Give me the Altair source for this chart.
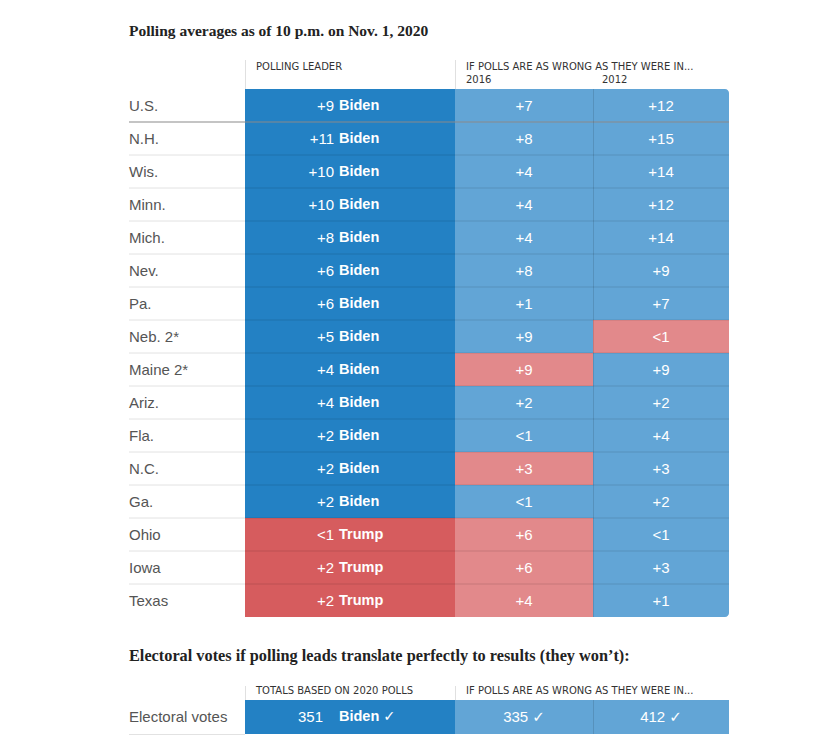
import altair as alt
import pandas as pd

# ---------------- data ----------------
STATES = ["U.S.", "N.H.", "Wis.", "Minn.", "Mich.", "Nev.", "Pa.", "Neb. 2*",
          "Maine 2*", "Ariz.", "Fla.", "N.C.", "Ga.", "Ohio", "Iowa", "Texas"]
LEAD_MARGIN = ["+9", "+11", "+10", "+10", "+8", "+6", "+6", "+5",
               "+4", "+4", "+2", "+2", "+2", "<1", "+2", "+2"]
LEADER = ["Biden"] * 13 + ["Trump"] * 3
MARGIN_2016 = ["+7", "+8", "+4", "+4", "+4", "+8", "+1", "+9",
               "+9", "+2", "<1", "+3", "<1", "+6", "+6", "+4"]
WINNER_2016 = ["Biden", "Biden", "Biden", "Biden", "Biden", "Biden", "Biden", "Biden",
               "Trump", "Biden", "Biden", "Trump", "Biden", "Trump", "Trump", "Trump"]
MARGIN_2012 = ["+12", "+15", "+14", "+12", "+14", "+9", "+7", "<1",
               "+9", "+2", "+4", "+3", "+2", "<1", "+3", "+1"]
WINNER_2012 = ["Biden", "Biden", "Biden", "Biden", "Biden", "Biden", "Biden", "Trump",
               "Biden", "Biden", "Biden", "Biden", "Biden", "Biden", "Biden", "Biden"]

EV_LABEL = "Electoral votes"
EV_LEAD = "351"
EV_LEADER = "Biden"
EV_2016 = "335"
EV_2012 = "412"

TITLE_1 = "Polling averages as of 10 p.m. on Nov. 1, 2020"
TITLE_2 = "Electoral votes if polling leads translate perfectly to results (they won\u2019t):"
HEAD_LEADER = "POLLING LEADER"
HEAD_WRONG = "IF POLLS ARE AS WRONG AS THEY WERE IN..."
HEAD_TOTALS = "TOTALS BASED ON 2020 POLLS"
YEARS = ["2016", "2012"]
CHECK = "\u2713"

# ---------------- layout / style ----------------
M = 8                      # page margin
W, H = 760, 730
COLS = {"leader": (245, 455), "y2016": (455, 593), "y2012": (593, 729)}
LABEL_X = (129, 245)
TABLE_Y = (89, 617)
EV_Y = (700, 734)
SHADE_DOMAIN = ["Biden-dark", "Trump-dark", "Biden-light", "Trump-light"]
SHADE_RANGE = ["#2381c4", "#d65c5e", "#62a5d6", "#e2898b"]
SANS = "Liberation Sans, DejaVu Sans, sans-serif"
SERIF = "Liberation Serif, DejaVu Serif, serif"
HEAD_FONT = "DejaVu Sans, sans-serif"


def px(v):
    return v - M


XS = alt.Scale(domain=[M, M + W], nice=False, zero=False)
COLOR = alt.Color("shade:N", scale=alt.Scale(domain=SHADE_DOMAIN, range=SHADE_RANGE), legend=None)


def y_state(**kw):
    return alt.Y("state:N", axis=None, title=None,
                 scale=alt.Scale(type="band", domain=STATES,
                                 range=[px(TABLE_Y[0]), px(TABLE_Y[1])],
                                 paddingInner=0, paddingOuter=0), **kw)


def y_ev(**kw):
    return alt.Y("state:N", axis=None, title=None,
                 scale=alt.Scale(type="band", domain=[EV_LABEL],
                                 range=[px(EV_Y[0]), px(EV_Y[1])],
                                 paddingInner=0, paddingOuter=0), **kw)


# ---------------- tables ----------------
rows = []
for i, s in enumerate(STATES):
    for col, text, who, tone in [("leader", LEAD_MARGIN[i], LEADER[i], "dark"),
                                 ("y2016", MARGIN_2016[i], WINNER_2016[i], "light"),
                                 ("y2012", MARGIN_2012[i], WINNER_2012[i], "light")]:
        x0, x1 = COLS[col]
        rows.append({"state": s, "col": col, "x0": x0, "x1": x1, "xc": (x0 + x1) / 2,
                     "text": text, "name": who, "shade": f"{who}-{tone}"})
cells = pd.DataFrame(rows)

ev_rows = []
for col, text, who, tone in [("leader", EV_LEAD, EV_LEADER, "dark"),
                             ("y2016", EV_2016 + " " + CHECK, "Biden", "light"),
                             ("y2012", EV_2012 + " " + CHECK, "Biden", "light")]:
    x0, x1 = COLS[col]
    ev_rows.append({"state": EV_LABEL, "col": col, "x0": x0, "x1": x1, "xc": (x0 + x1) / 2,
                    "text": text, "name": who, "shade": f"{who}-{tone}"})
ev = pd.DataFrame(ev_rows)

labels = pd.DataFrame({"state": STATES})
sep = pd.DataFrame({"state": STATES[1:-1], "x0": LABEL_X[0], "x1": LABEL_X[1]})
sep_cells = pd.DataFrame({"state": STATES[1:-1], "x0": COLS["leader"][0], "x1": COLS["y2012"][1]})
us_line = pd.DataFrame({"state": [STATES[0]], "x0": LABEL_X[0], "x1": COLS["y2012"][1]})

corner_tr = (cells["state"] == STATES[0]) & (cells["col"] == "y2012")
corner_br = (cells["state"] == STATES[-1]) & (cells["col"] == "y2012")

X0 = alt.X("x0:Q", scale=XS, axis=None)
X1 = alt.X2("x1:Q")
ONE = pd.DataFrame({"k": [1]})

layers = []

# cells
layers.append(alt.Chart(cells[~(corner_tr | corner_br)]).mark_rect().encode(x=X0, x2=X1, y=y_state(), color=COLOR))
layers.append(alt.Chart(cells[corner_tr]).mark_rect(cornerRadiusTopRight=4).encode(x=X0, x2=X1, y=y_state(), color=COLOR))
layers.append(alt.Chart(cells[corner_br]).mark_rect(cornerRadiusBottomRight=4).encode(x=X0, x2=X1, y=y_state(), color=COLOR))
layers.append(alt.Chart(ev).mark_rect().encode(x=X0, x2=X1, y=y_ev(), color=COLOR))

# separators
layers.append(alt.Chart(sep).mark_rule(color="#e2e2e2", strokeWidth=1).encode(
    x=X0, x2=X1, y=y_state(bandPosition=1)))
layers.append(alt.Chart(sep_cells).mark_rule(color="#000000", opacity=0.12, strokeWidth=1).encode(
    x=X0, x2=X1, y=y_state(bandPosition=1)))
layers.append(alt.Chart(us_line).mark_rule(color="#8a8a8a", strokeWidth=1.2).encode(
    x=X0, x2=X1, y=y_state(bandPosition=1)))
layers.append(alt.Chart(ONE).mark_rule(color="#000000", opacity=0.12).encode(
    x=alt.value(px(COLS["y2012"][0]) + 0.5), y=alt.value(px(TABLE_Y[0])), y2=alt.value(px(TABLE_Y[1]))))
layers.append(alt.Chart(ONE).mark_rule(color="#000000", opacity=0.12).encode(
    x=alt.value(px(COLS["y2012"][0]) + 0.5), y=alt.value(px(EV_Y[0])), y2=alt.value(px(EV_Y[1]))))
layers.append(alt.Chart(ONE).mark_rule(color="#e2e2e2").encode(
    x=alt.value(px(LABEL_X[0])), x2=alt.value(px(LABEL_X[1])), y=alt.value(px(EV_Y[1]) + 0.5)))

# header dividers
for xv in [COLS["leader"][0], COLS["y2016"][0]]:
    layers.append(alt.Chart(ONE).mark_rule(color="#e0e0e0").encode(
        x=alt.value(px(xv) + 0.5), y=alt.value(px(60)), y2=alt.value(px(TABLE_Y[0]))))
    layers.append(alt.Chart(ONE).mark_rule(color="#e0e0e0").encode(
        x=alt.value(px(xv) + 0.5), y=alt.value(px(686)), y2=alt.value(px(EV_Y[0]))))

# row labels
layers.append(alt.Chart(labels).mark_text(align="left", baseline="middle", font=SANS, fontSize=15, color="#555555").encode(
    x=alt.value(px(LABEL_X[0])), y=y_state(), text="state:N"))
layers.append(alt.Chart(pd.DataFrame({"state": [EV_LABEL]})).mark_text(align="left", baseline="middle", font=SANS, fontSize=15, color="#555555").encode(
    x=alt.value(px(LABEL_X[0])), y=y_ev(), text="state:N"))

# cell texts
lead = cells[cells["col"] == "leader"]
other = cells[cells["col"] != "leader"]
layers.append(alt.Chart(lead).mark_text(align="right", baseline="middle", font=SANS, fontSize=15, color="white").encode(
    x=alt.value(px(334)), y=y_state(), text="text:N"))
layers.append(alt.Chart(lead).mark_text(align="left", baseline="middle", font=SANS, fontSize=14.5, fontWeight="bold", color="white").encode(
    x=alt.value(px(339)), y=y_state(), text="name:N"))
layers.append(alt.Chart(other).mark_text(align="center", baseline="middle", font=SANS, fontSize=15, color="white").encode(
    x=alt.X("xc:Q", scale=XS, axis=None), y=y_state(), text="text:N"))

ev_lead = ev[ev["col"] == "leader"].assign(name=lambda d: d["name"] + " " + CHECK)
ev_other = ev[ev["col"] != "leader"]
layers.append(alt.Chart(ev_lead).mark_text(align="right", baseline="middle", font=SANS, fontSize=15, color="white").encode(
    x=alt.value(px(323)), y=y_ev(), text="text:N"))
layers.append(alt.Chart(ev_lead).mark_text(align="left", baseline="middle", font=SANS, fontSize=14.5, fontWeight="bold", color="white").encode(
    x=alt.value(px(339)), y=y_ev(), text="name:N"))
layers.append(alt.Chart(ev_other).mark_text(align="center", baseline="middle", font=SANS, fontSize=15, color="white").encode(
    x=alt.X("xc:Q", scale=XS, axis=None), y=y_ev(), text="text:N"))


# titles and headers
def label(text, x, y, font, size, color, weight="normal", baseline="middle"):
    return alt.Chart(pd.DataFrame({"t": [text]})).mark_text(
        align="left", baseline=baseline, font=font, fontSize=size, fontWeight=weight, color=color
    ).encode(x=alt.value(px(x)), y=alt.value(px(y)), text="t:N")


layers.append(label(TITLE_1, 129, 36, SERIF, 15.5, "#222222", "bold", "alphabetic"))
layers.append(label(TITLE_2, 129, 661, SERIF, 16.3, "#222222", "bold", "alphabetic"))
layers.append(label(HEAD_LEADER, 256, 67, HEAD_FONT, 10, "#333333"))
layers.append(label(HEAD_WRONG, 466, 67, HEAD_FONT, 10, "#333333"))
layers.append(label(YEARS[0], 466, 80, HEAD_FONT, 10, "#333333"))
layers.append(label(YEARS[1], 602, 80, HEAD_FONT, 10, "#333333"))
layers.append(label(HEAD_TOTALS, 256, 691, HEAD_FONT, 10, "#333333"))
layers.append(label(HEAD_WRONG, 466, 691, HEAD_FONT, 10, "#333333"))

chart = alt.layer(*layers).resolve_scale(y="independent").properties(
    width=W, height=H, padding=0,
    autosize=alt.AutoSizeParams(type="none"),
    background="white",
).configure_view(stroke=None)

chart.save("out.html", embed_options={"renderer": "svg", "actions": False})
